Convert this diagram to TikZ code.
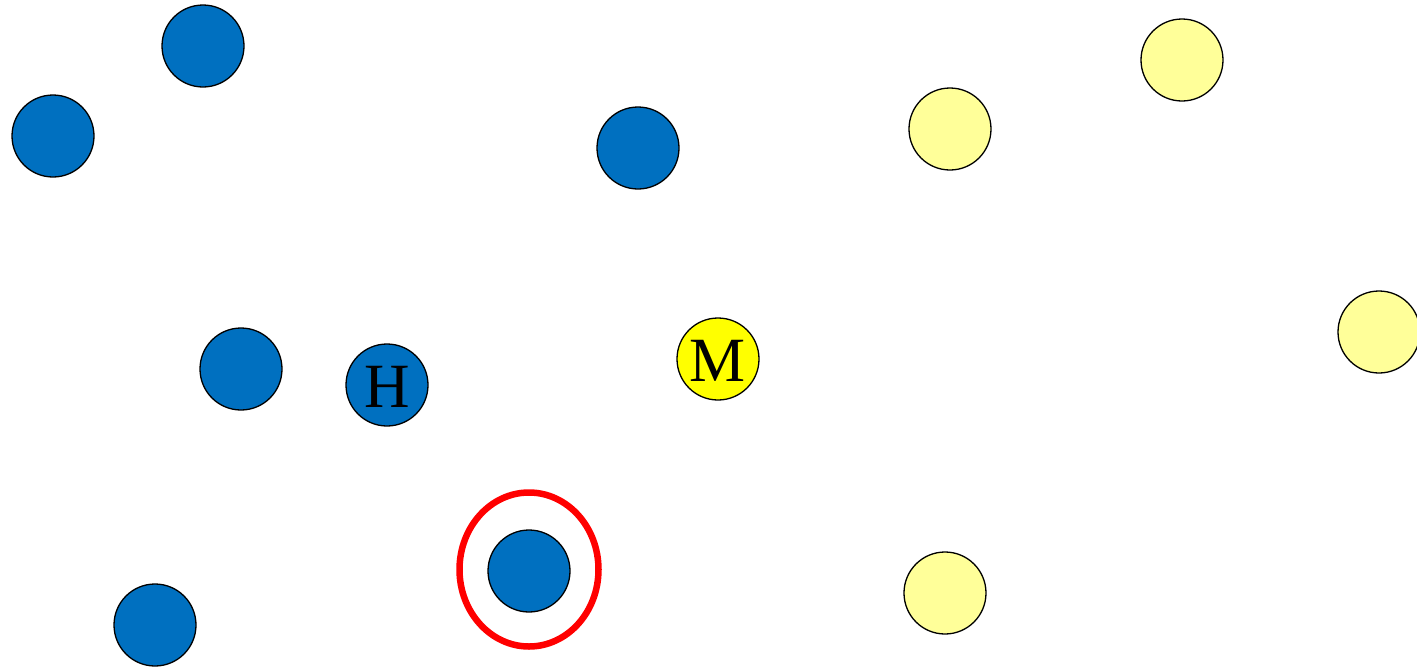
\documentclass[tikz,border=0pt]{standalone}
\usepackage{fontspec}
\setmainfont{Liberation Serif}
\definecolor{dotblue}{HTML}{0070C0}
\definecolor{paleyel}{HTML}{FFFF99}
\definecolor{brightyel}{HTML}{FFFF00}
\begin{document}
\begin{tikzpicture}[x=1pt,y=-1pt,
  dot/.style={circle,draw=black,line width=1.3pt,minimum size=82pt,inner sep=0pt,font=\fontsize{63}{66}\selectfont},
  bdot/.style={dot,fill=dotblue},
  pdot/.style={dot,fill=paleyel},
  ydot/.style={dot,fill=brightyel}]
\useasboundingbox (0,0) rectangle (1417,667);
\node[bdot] (b1) at (203,46) {};
\node[bdot] (b2) at (53,136) {};
\node[bdot] (b3) at (638,148) {};
\node[pdot] (p1) at (950,129) {};
\node[pdot] (p2) at (1182,60) {};
\node[pdot] (p3) at (1379,332) {};
\node[bdot] (b4) at (241,369) {};
\node[bdot] (h) at (387,385) {};
\node[ydot] (m) at (718,359) {};
\node[anchor=center,inner sep=0pt,font=\fontsize{63}{66}\selectfont] (ht) at (387,387) {H};
\node[anchor=center,inner sep=0pt,font=\fontsize{63}{66}\selectfont] (mt) at (718,360.5) {M};
\node[bdot] (b5) at (529,571) {};
\node[bdot] (b6) at (155,625) {};
\node[pdot] (p4) at (945,593) {};
\draw[red,line width=6.5pt] (529,569.5) ellipse [x radius=69.5, y radius=77];
\end{tikzpicture}
\end{document}
